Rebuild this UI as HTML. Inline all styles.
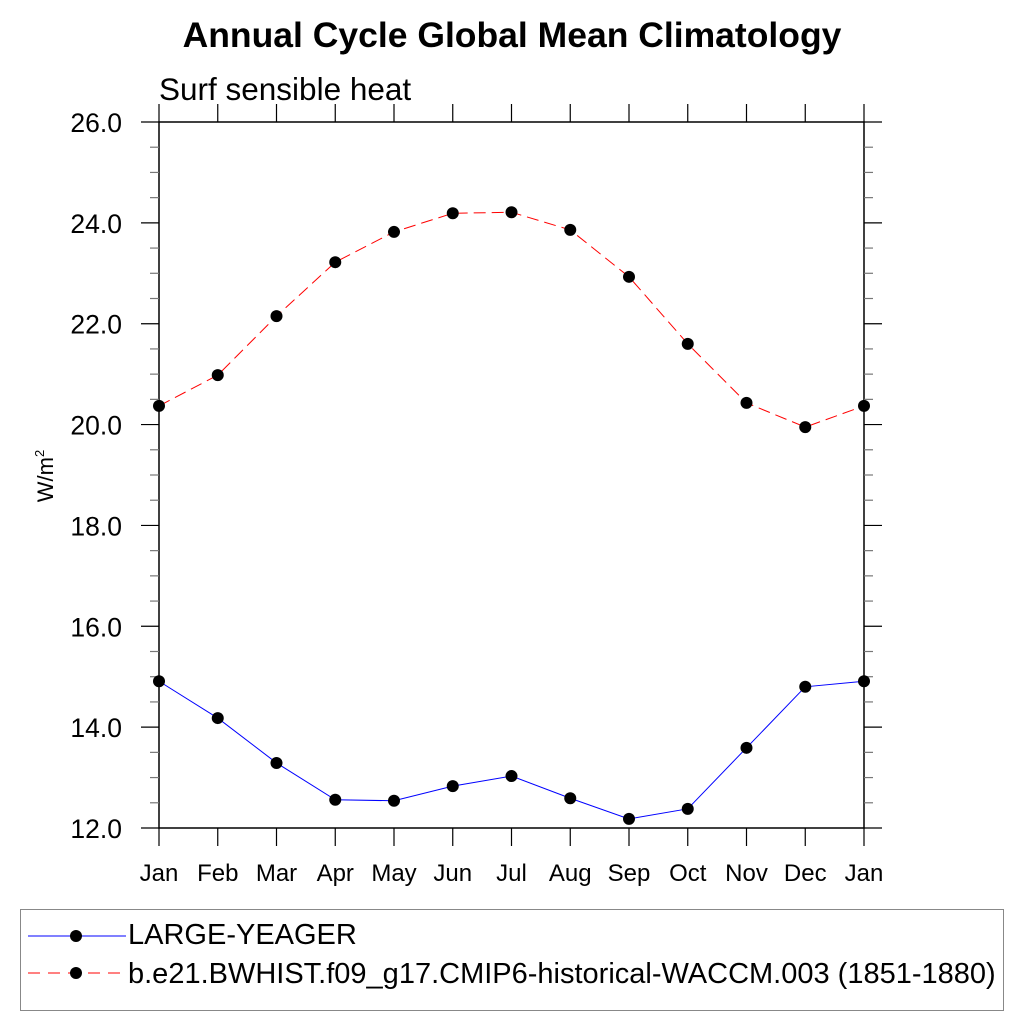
<!DOCTYPE html>
<html><head><meta charset="utf-8"><style>
body{margin:0;background:#fff;}
svg text{font-family:"Liberation Sans",sans-serif;}
</style></head><body>
<svg id="chart" width="1024" height="1024" xmlns="http://www.w3.org/2000/svg">
<rect width="1024" height="1024" fill="#fff"/>
<text x="512" y="47" text-anchor="middle" font-size="35.5" font-weight="bold">Annual Cycle Global Mean Climatology</text>
<text x="159" y="100" font-size="31.5">Surf sensible heat</text>
<text transform="translate(53,476) rotate(-90)" text-anchor="middle" font-size="22">W/m<tspan dy="-9" font-size="13">2</tspan></text>
<g id="axes"></g>
<g id="series"></g>
<rect x="20.5" y="909.5" width="983" height="101" fill="none" stroke="#888" stroke-width="1"/>
<g>
<line x1="28" y1="936" x2="126" y2="936" stroke="#0000ff" stroke-width="1"/>
<circle cx="76" cy="936" r="6" fill="#000"/>
<text x="128" y="944" font-size="29">LARGE-YEAGER</text>
</g>
<g>
<line x1="28" y1="973" x2="126" y2="973" stroke="#ff0000" stroke-width="1" stroke-dasharray="12,8"/>
<circle cx="76" cy="973" r="6" fill="#000"/>
<text x="128" y="983" font-size="29">b.e21.BWHIST.f09_g17.CMIP6-historical-WACCM.003 (1851-1880)</text>
</g>
</svg>
<script>
const months=["Jan","Feb","Mar","Apr","May","Jun","Jul","Aug","Sep","Oct","Nov","Dec","Jan"];
const yTicks=[12,14,16,18,20,22,24,26];
const largeYeager=[14.91,14.18,13.29,12.56,12.54,12.83,13.03,12.59,12.18,12.38,13.59,14.80,14.91];
const waccm=[20.37,20.98,22.15,23.22,23.82,24.19,24.21,23.86,22.93,21.60,20.43,19.95,20.37];
const X0=159,X1=864,Y0=828,Y1=122;
function xs(i){return X0+(X1-X0)*i/12;}
function ys(v){return Y0-(v-12)/(14)*(Y0-Y1);}
const NS="http://www.w3.org/2000/svg";
function mk(tag,attrs,parent){const e=document.createElementNS(NS,tag);for(const k in attrs)e.setAttribute(k,attrs[k]);parent.appendChild(e);return e;}
const ax=document.getElementById('axes');
const fr=mk('rect',{x:X0,y:Y1,width:X1-X0,height:Y0-Y1,fill:'none',stroke:'#000','stroke-width':1.5},ax);


for(let v=12;v<=26.001;v+=0.5){
  const major=Math.abs(v/2-Math.round(v/2))<1e-6;
  const L=major?18:9;const y=ys(v);
  const t1=mk('line',{x1:X0-L,y1:y,x2:X0,y2:y,stroke:major?'#000':'#777','stroke-width':1.2},ax);
  
  
  const t2=mk('line',{x1:X1,y1:y,x2:X1+L,y2:y,stroke:major?'#000':'#777','stroke-width':1.2},ax);
  
  
}
yTicks.forEach(v=>{
  const t=mk('text',{x:122,y:ys(v)+10,'text-anchor':'end','font-size':26.5},ax);
  t.textContent=v.toFixed(1);
  
  
});
months.forEach((m,i)=>{
  const x=xs(i);
  const a=mk('line',{x1:x,y1:Y0,x2:x,y2:Y0+18,stroke:'#000','stroke-width':1.2},ax);
  
  
  const b=mk('line',{x1:x,y1:Y1-18,x2:x,y2:Y1,stroke:'#000','stroke-width':1.2},ax);
  
  
  const t=mk('text',{x:x,y:881,'text-anchor':'middle','font-size':24},ax);
  t.textContent=m;
  
  
});
const sg=document.getElementById('series');
function draw(vals,color,dash,name){
  const pts=vals.map((v,i)=>xs(i)+','+ys(v)).join(' ');
  const l=mk('polyline',{points:pts,fill:'none',stroke:color,'stroke-width':1,'stroke-dasharray':dash},sg);
  
  
  vals.forEach((v,i)=>{
    const c=mk('circle',{cx:xs(i),cy:ys(v),r:6,fill:'#000'},sg);
    
    
  });
}
draw(waccm,'#ff0000','12,6','waccm');
draw(largeYeager,'#0000ff','none','large-yeager');
</script>
</body></html>
